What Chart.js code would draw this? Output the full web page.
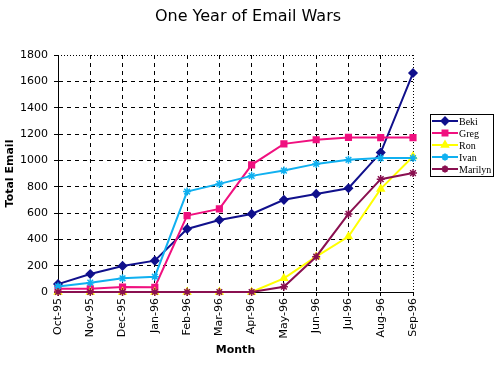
<!DOCTYPE html>
<html>
<head>
<meta charset="utf-8">
<script src="https://cdn.jsdelivr.net/npm/chart.js@4"></script>
<style>
  html, body { margin: 0; padding: 0; background: #fff; }
  #wrap { width: 500px; height: 365px; }
</style>
</head>
<body>
<div id="wrap"><canvas id="emailChart"></canvas></div>
<script>
const months = ['Oct-95', 'Nov-95', 'Dec-95', 'Jan-96', 'Feb-96', 'Mar-96',
  'Apr-96', 'May-96', 'Jun-96', 'Jul-96', 'Aug-96', 'Sep-96'];
const beki = [60, 137, 198, 238, 479, 547, 593, 700, 745, 788, 1059, 1663];
const greg = [25, 25, 38, 36, 580, 631, 966, 1125, 1156, 1174, 1173, 1173];
const ron = [0, 0, 0, 0, 0, 0, 0, 104, 268, 421, 783, 1029];
const ivan = [42, 71, 104, 116, 763, 821, 882, 922, 973, 1004, 1017, 1017];
const marilyn = [0, 0, 0, 0, 0, 0, 0, 40, 268, 593, 857, 903];
const yTicks = [0, 200, 400, 600, 800, 1000, 1200, 1400, 1600, 1800];
const chartTitle = 'One Year of Email Wars';

const ctx = document.getElementById('emailChart');

// title centred on the whole picture, not on the plot
const pageTitle = {
  id: 'pageTitle',
  afterDraw(chart) {
    const c = chart.ctx;
    c.save();
    c.fillStyle = '#000';
    c.font = '16px "DejaVu Sans"';
    c.textAlign = 'center';
    c.textBaseline = 'middle';
    c.fillText(chartTitle, 248, 17);
    c.restore();
  }
};

// legend drawn by hand: boxed, line + marker like the old spreadsheet chart
const boxLegend = {
  id: 'boxLegend',
  afterDraw(chart) {
    const c = chart.ctx;
    const x0 = 430, y0 = 114, w = 63, h = 62;
    c.save();
    c.fillStyle = '#fff';
    c.fillRect(x0, y0, w, h);
    c.strokeStyle = '#000';
    c.lineWidth = 1;
    c.strokeRect(x0 + 0.5, y0 + 0.5, w, h);
    c.font = '10px "Liberation Serif"';
    c.textBaseline = 'middle';
    chart.data.datasets.forEach((ds, i) => {
      const y = y0 + 7 + i * 12;
      c.strokeStyle = ds.borderColor;
      c.lineWidth = 2;
      c.beginPath();
      c.moveTo(x0 + 2, y);
      c.lineTo(x0 + 28, y);
      c.stroke();
      c.fillStyle = ds.pointBackgroundColor;
      c.strokeStyle = ds.pointBorderColor;
      Chart.helpers.drawPoint(c, {
        pointStyle: ds.pointStyle, radius: 3.5, borderWidth: 1.5
      }, x0 + 15, y);
      c.fillStyle = '#000';
      c.fillText(ds.label, x0 + 29, y + 1);
    });
    c.restore();
  }
};

// dotted top and right edges of the plot
const dottedFrame = {
  id: 'dottedFrame',
  beforeDatasetsDraw(chart) {
    const a = chart.chartArea;
    const c = chart.ctx;
    c.save();
    c.strokeStyle = '#000';
    c.lineWidth = 1;
    c.setLineDash([1, 2]);
    c.beginPath();
    c.moveTo(a.left, Math.round(a.top) + 0.5);
    c.lineTo(a.right, Math.round(a.top) + 0.5);
    c.moveTo(Math.round(a.right) + 0.5, a.top);
    c.lineTo(Math.round(a.right) + 0.5, a.bottom);
    c.stroke();
    c.restore();
  }
};

// later series drawn on top, as in the original spreadsheet
function series(label, data, color, style, order, markerFill) {
  return {
    label: label,
    data: data,
    order: order,
    borderColor: color,
    backgroundColor: markerFill || color,
    pointBorderColor: color,
    pointBackgroundColor: markerFill || color,
    pointStyle: style,
    pointRadius: 4,
    pointBorderWidth: 1.5,
    borderWidth: 2,
    tension: 0,
    clip: false,
  };
}

new Chart(ctx, {
  type: 'line',
  data: {
    labels: months,
    datasets: [
      series('Beki', beki, '#10108c', 'rectRot', 5),
      series('Greg', greg, '#f0107f', 'rect', 4),
      series('Ron', ron, '#ffff00', 'triangle', 3),
      series('Ivan', ivan, '#10b0f0', 'star', 2),
      series('Marilyn', marilyn, '#8a1050', 'star', 1, '#f0107f'),
    ],
  },
  options: {
    responsive: true,
    maintainAspectRatio: false,
    animation: false,
    layout: { padding: { left: 0, right: 87, top: 55, bottom: 4 } },
    plugins: {
      legend: { display: false },
      tooltip: { enabled: false },
      title: { display: false },
    },
    scales: {
      x: {
        offset: false,
        afterFit(scale) { scale.height = 69; },
        grid: {
          color: (c) => (c.index === months.length - 1 ? 'rgba(0,0,0,0)' : '#000'),
          tickColor: '#000',
          tickLength: 4,
          lineWidth: 1,
        },
        border: { color: '#000', width: 1, dash: [4, 4] },
        ticks: {
          color: '#000',
          minRotation: 90,
          maxRotation: 90,
          autoSkip: false,
          padding: 2,
          font: { family: '"DejaVu Sans"', size: 11 },
        },
        title: {
          display: true,
          text: 'Month',
          color: '#000',
          font: { family: '"DejaVu Sans"', size: 11, weight: 'bold' },
          padding: { top: 2, bottom: 4 },
        },
      },
      y: {
        min: 0,
        max: 1800,
        afterFit(scale) { scale.width = 58; },
        afterBuildTicks(scale) { scale.ticks = yTicks.map((v) => ({ value: v })); },
        grid: {
          color: (c) => (c.tick && c.tick.value === 1800 ? 'rgba(0,0,0,0)' : '#000'),
          tickColor: '#000',
          tickLength: 4,
          lineWidth: 1,
        },
        border: { color: '#000', width: 1, dash: [4, 4] },
        ticks: {
          color: '#000',
          padding: 6,
          font: { family: '"DejaVu Sans"', size: 11 },
          callback: (v) => String(v),
        },
        title: {
          display: true,
          text: 'Total Email',
          color: '#000',
          font: { family: '"DejaVu Sans"', size: 11, weight: 'bold' },
          padding: { top: 4, bottom: 2 },
        },
      },
    },
  },
  plugins: [dottedFrame, boxLegend, pageTitle],
});
</script>
</body>
</html>
